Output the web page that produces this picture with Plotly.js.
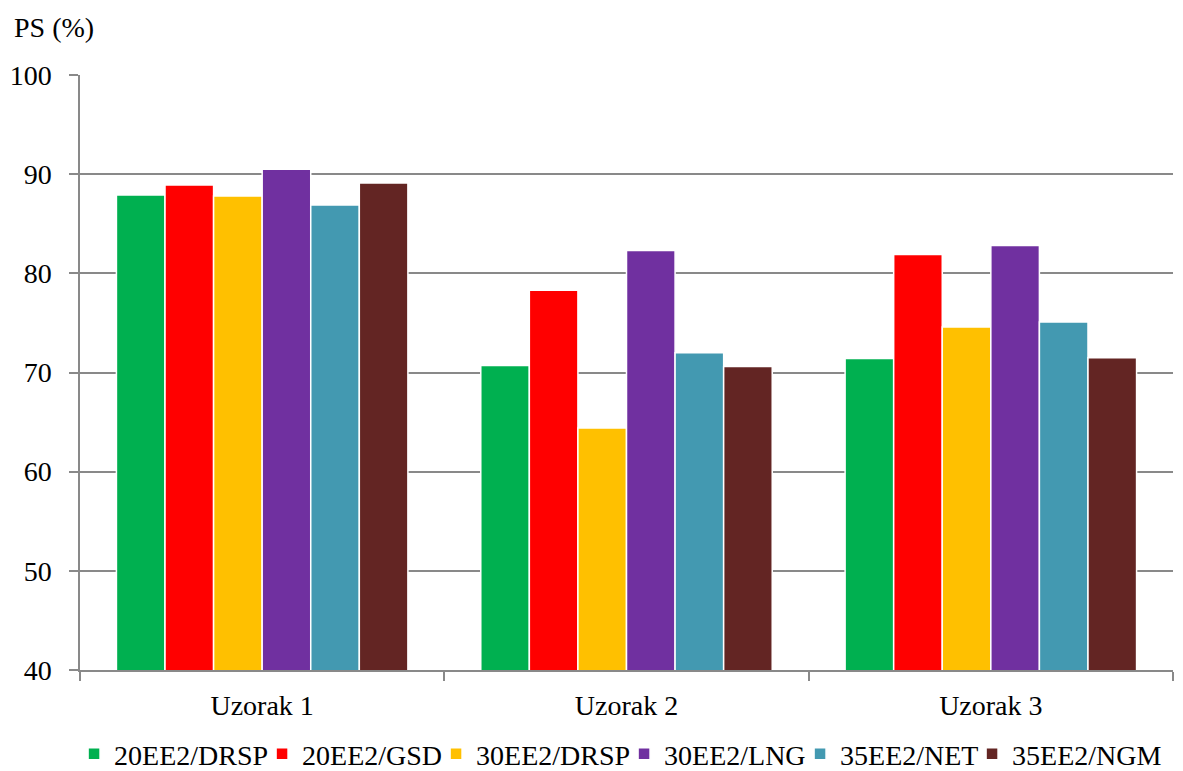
<!DOCTYPE html>
<html>
<head>
<meta charset="utf-8">
<script src="https://cdn.plot.ly/plotly-3.0.1.min.js"></script>
<style>html,body{margin:0;padding:0;background:#fff;}#chart{width:1183px;height:771px;}</style>
</head>
<body>
<div id="chart"></div>
<script>
const categories = ["Uzorak 1", "Uzorak 2", "Uzorak 3"];
const seriesNames = ["20EE2/DRSP", "20EE2/GSD", "30EE2/DRSP", "30EE2/LNG", "35EE2/NET", "35EE2/NGM"];
const s20DRSP = [87.9, 70.7, 71.4];
const s20GSD  = [88.9, 78.3, 81.9];
const s30DRSP = [87.8, 64.4, 74.6];
const s30LNG  = [90.5, 82.3, 82.8];
const s35NET  = [86.9, 72.0, 75.1];
const s35NGM  = [89.1, 70.6, 71.5];
const seriesValues = [s20DRSP, s20GSD, s30DRSP, s30LNG, s35NET, s35NGM];
const colors = ["#00B050", "#FF0000", "#FFC000", "#7030A0", "#4399B1", "#632523"];
const yTicks = [40, 50, 60, 70, 80, 90, 100];

const font = "Liberation Serif";
const legendSize = 28;
const f28 = {family: font, size: 28, color: "#000"};

// measure legend text widths so entries can be packed tightly like the reference
const ctx = document.createElement("canvas").getContext("2d");
ctx.font = legendSize + "px 'Liberation Serif'";
const textWidth = s => ctx.measureText(s).width;

const traces = seriesNames.map((n, i) => ({
  type: "bar",
  name: n,
  x: categories,
  y: seriesValues[i],
  marker: {color: colors[i], line: {color: "#ffffff", width: 1.5}},
  legendwidth: i === seriesNames.length - 1 ? Math.ceil(textWidth(n) + 4) : Math.max(1, Math.round(textWidth(n) - 11)),
  hoverinfo: "x+y+name"
}));

const layout = {
  width: 1183, height: 771,
  margin: {l: 80, r: 10, t: 75, b: 101},
  paper_bgcolor: "#fff", plot_bgcolor: "#fff",
  font: f28,
  barmode: "group", bargap: 0.2, bargroupgap: 0,
  showlegend: true,
  legend: {orientation: "h", x: 0.0626, xanchor: "left", xref: "container", y: 0.022, yanchor: "middle", yref: "container",
           font: {family: font, size: legendSize, color: "#000"}, itemwidth: 30, tracegroupgap: 0},
  xaxis: {type: "category", showline: true, linecolor: "#898989", linewidth: 1.5,
          ticks: "outside", tickson: "boundaries", ticklen: 9, tickcolor: "#898989", tickwidth: 1.5,
          showgrid: false, automargin: false, ticklabelstandoff: 10, tickfont: f28},
  yaxis: {range: [40, 100], tickvals: yTicks, showline: true, linecolor: "#898989", linewidth: 1.5,
          ticks: "outside", ticklen: 9, tickcolor: "#898989", tickwidth: 1.5,
          showgrid: true, gridcolor: "#898989", gridwidth: 1.5, zeroline: false,
          automargin: false, ticklabelstandoff: 12, tickfont: f28},
  annotations: [{text: "PS (%)", xref: "paper", yref: "paper", x: -0.0622, y: 1.08,
                 xanchor: "left", yanchor: "middle", showarrow: false, font: f28}]
};

Plotly.newPlot("chart", traces, layout, {displayModeBar: false, staticPlot: false});
</script>
</body>
</html>
